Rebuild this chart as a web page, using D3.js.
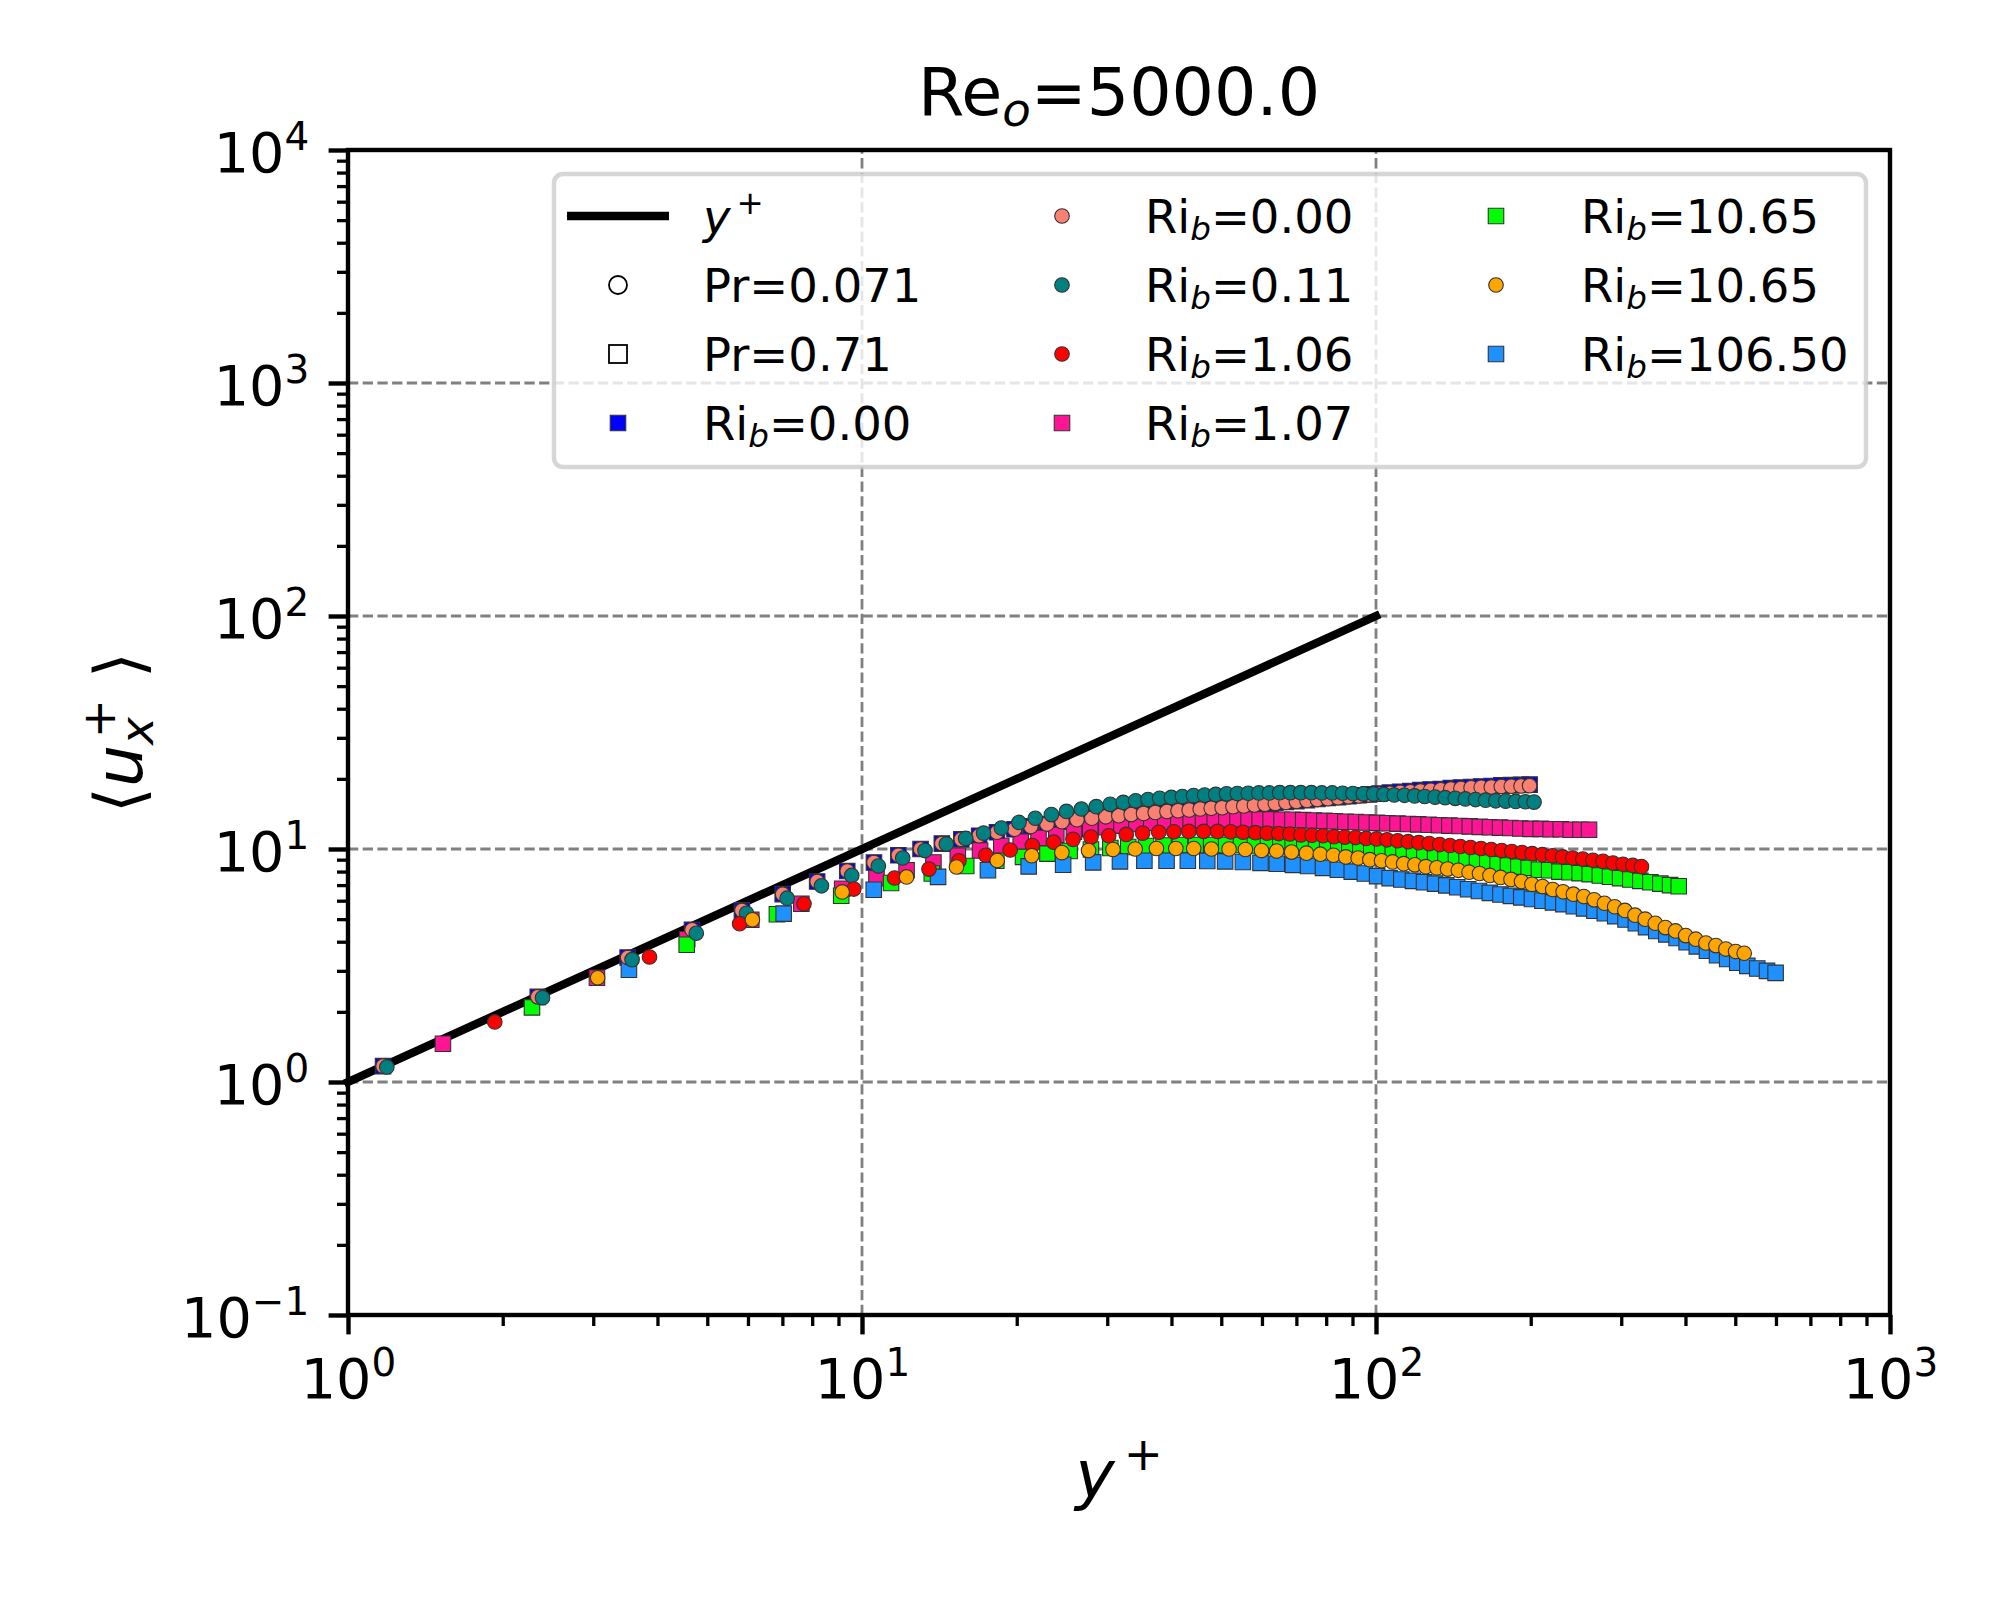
<!DOCTYPE html>
<html>
<head>
<meta charset="utf-8">
<title>Re_o=5000.0</title>
<script src="https://cdn.jsdelivr.net/npm/d3@7"></script>
<style>
body{margin:0;background:#fff;}
svg text{font-family:"DejaVu Sans",sans-serif;fill:#000;}
</style>
</head>
<body>
<script>
const width = 2000;
const height = 1600;
const marginLeft = 348;
const marginRight = 110;
const marginTop = 150;
const marginBottom = 285;

const fsTick = 55.6;
const fsBig = 66.7;
const fsLeg = 46.5;

// y+ reference line
const lineYPlus = [1, 100];

// Pr=0.071, Ri_b=0.00 (salmon); the Pr=0.71, Ri_b=0.00 squares sit on the same points
const yPlusPr071Ri000 = [1.17,2.34,3.50,4.67,5.84,7.01,8.18,9.36,10.55,11.77,13.0,14.3,15.6,16.9,18.3,19.8,21.3,22.9,24.5,26.2,28.0,29.8,31.6,33.4,35.3,37.2,39.2,41.2,43.3,45.5,47.8,50.2,52.7,55.3,58.0,60.8,63.7,66.8,70.0,73.4,76.9,80.6,84.4,88.4,92.6,97.0,101.6,106.4,111.4,116.6,122.0,127.7,133.6,139.8,146.3,153.1,160.2,167.6,175.3,183.3,191.5,199.0];
const uPlusPr071Ri000 = [1.17,2.32,3.42,4.50,5.45,6.40,7.25,8.05,8.75,9.40,10.0,10.55,11.0,11.4,11.8,12.15,12.5,12.8,13.1,13.35,13.55,13.75,13.9,14.05,14.2,14.35,14.5,14.6,14.7,14.85,14.95,15.05,15.2,15.3,15.45,15.55,15.7,15.85,16.0,16.15,16.3,16.45,16.6,16.75,16.9,17.05,17.2,17.35,17.5,17.6,17.75,17.85,17.95,18.1,18.2,18.3,18.4,18.45,18.55,18.6,18.65,18.7];
const uPlusPr071Ri000Sq = [1.17,2.32,3.42,4.50,5.45,6.40,7.25,8.05,8.75,9.40,10.0,10.55,11.0,11.4,11.8,12.15,12.5,12.8,13.1,13.35,13.55,13.75,13.9,14.05,14.2,14.35,14.5,14.6,14.7,14.85,14.95,15.05,15.2,15.3,15.45,15.6,15.75,15.9,16.05,16.2,16.4,16.55,16.7,16.85,17.0,17.15,17.3,17.45,17.6,17.75,17.9,18.0,18.1,18.25,18.35,18.45,18.55,18.65,18.75,18.8,18.85,18.9];

// Pr=0.071, Ri_b=0.11 (teal)
const yPlusPr071Ri011 = [1.19,2.39,3.57,4.76,5.96,7.15,8.34,9.55,10.76,12.0,13.26,14.59,15.91,17.24,18.67,20.2,21.73,23.36,24.99,26.72,28.56,30.4,32.23,34.07,36.01,37.94,39.98,42.02,44.17,46.41,48.76,51.2,53.75,56.41,59.16,62.02,64.97,68.14,71.4,74.87,78.44,82.21,86.09,90.17,94.45,98.94,103.6,108.5,113.6,118.9,124.4,130.3,136.3,142.6,149.2,156.2,163.4,171.0,178.8,187.0,195.3,203.0];
const uPlusPr071Ri011 = [1.16,2.30,3.35,4.35,5.30,6.15,6.95,7.70,8.45,9.15,9.85,10.5,11.1,11.7,12.3,13.0,13.55,14.05,14.5,14.85,15.2,15.55,15.85,16.1,16.3,16.5,16.65,16.8,16.95,17.05,17.15,17.25,17.3,17.35,17.4,17.4,17.45,17.45,17.45,17.45,17.4,17.4,17.35,17.3,17.25,17.2,17.15,17.05,17.0,16.9,16.8,16.7,16.6,16.5,16.4,16.3,16.2,16.1,16.05,16.0,15.95,15.9];

// Pr=0.071, Ri_b=1.06 (red)
const yPlusPr071Ri106 = [1.93,3.86,5.78,7.71,9.64,11.57,13.50,15.44,17.41,19.42,21.45,23.6,25.74,27.89,30.2,32.67,35.15,37.79,40.43,43.23,46.2,49.17,52.14,55.11,58.25,61.38,64.68,67.98,71.45,75.08,78.87,82.83,86.96,91.25,95.7,100.3,105.1,110.2,115.5,121.1,126.9,133.0,139.3,145.9,152.8,160.1,167.6,175.6,183.8,192.4,201.3,210.7,220.4,230.7,241.4,252.6,264.3,276.5,289.2,302.4,316.0,328.4];
const uPlusPr071Ri106 = [1.81,3.44,4.78,5.82,6.73,7.51,8.20,8.90,9.40,9.90,10.35,10.7,11.0,11.25,11.4,11.55,11.7,11.8,11.85,11.9,11.9,11.9,11.85,11.8,11.75,11.7,11.65,11.6,11.5,11.45,11.4,11.3,11.25,11.2,11.1,11.05,10.95,10.85,10.75,10.65,10.55,10.45,10.35,10.25,10.15,10.05,9.95,9.85,9.75,9.65,9.55,9.45,9.35,9.25,9.15,9.05,8.95,8.85,8.7,8.6,8.5,8.4];

// Pr=0.71, Ri_b=1.07 (deep pink)
const yPlusPr71Ri107 = [1.53,3.05,4.57,6.09,7.62,9.15,10.67,12.21,13.77,15.36,16.97,18.66,20.36,22.05,23.88,25.84,27.8,29.88,31.97,34.19,36.54,38.89,41.24,43.59,46.07,48.55,51.16,53.77,56.51,59.38,62.38,65.51,68.77,72.17,75.69,79.34,83.13,87.17,91.35,95.79,100.4,105.2,110.1,115.4,120.8,126.6,132.6,138.9,145.4,152.2,159.2,166.6,174.3,182.4,190.9,199.8,209.1,218.7,228.8,239.2,249.9,259.7];
const uPlusPr71Ri107 = [1.46,2.80,4.10,4.97,5.82,6.75,7.50,8.10,8.75,9.35,9.85,10.3,10.75,11.15,11.5,11.85,12.15,12.4,12.6,12.8,12.95,13.05,13.15,13.25,13.3,13.35,13.4,13.4,13.4,13.4,13.4,13.35,13.35,13.3,13.25,13.2,13.15,13.1,13.05,13.0,12.95,12.9,12.85,12.8,12.75,12.7,12.65,12.6,12.55,12.5,12.45,12.4,12.35,12.3,12.25,12.2,12.2,12.15,12.15,12.1,12.1,12.1];

// Pr=0.71, Ri_b=10.65 (lime)
const yPlusPr71Ri1065 = [2.28,4.56,6.83,9.11,11.39,13.67,15.95,18.25,20.57,22.95,25.35,27.89,30.42,32.96,35.69,38.61,41.54,44.66,47.78,51.09,54.6,58.11,61.62,65.13,68.84,72.54,76.44,80.34,84.44,88.73,93.21,97.89,102.8,107.8,113.1,118.6,124.2,130.3,136.5,143.1,150.0,157.2,164.6,172.4,180.6,189.2,198.1,207.5,217.2,227.4,237.9,249.0,260.5,272.6,285.3,298.5,312.4,326.8,341.8,357.4,373.4,388.1];
const uPlusPr71Ri1065 = [2.09,3.88,5.25,6.30,7.15,7.85,8.45,8.90,9.25,9.55,9.80,9.95,10.1,10.2,10.3,10.35,10.4,10.4,10.4,10.4,10.4,10.35,10.3,10.25,10.2,10.15,10.1,10.0,9.95,9.9,9.85,9.8,9.7,9.6,9.5,9.45,9.35,9.25,9.15,9.05,8.95,8.85,8.75,8.6,8.5,8.4,8.3,8.15,8.1,8.0,7.95,7.88,7.8,7.7,7.6,7.5,7.4,7.3,7.2,7.1,7.0,6.92];

// Pr=0.071, Ri_b=10.65 (orange)
const yPlusPr071Ri1065 = [3.06,6.12,9.15,12.21,15.27,18.33,21.39,24.48,27.59,30.78,34.0,37.39,40.79,44.19,47.85,51.78,55.7,59.88,64.07,68.51,73.22,77.93,82.63,87.34,92.31,97.28,102.5,107.7,113.2,119.0,125.0,131.3,137.8,144.6,151.7,159.0,166.6,174.7,183.1,191.9,201.1,210.8,220.7,231.2,242.1,253.7,265.7,278.2,291.3,304.9,319.0,333.9,349.4,365.6,382.6,400.4,418.9,438.3,458.4,479.3,500.8,520.4];
const uPlusPr071Ri1065 = [2.80,4.97,6.54,7.59,8.37,8.93,9.36,9.65,9.85,9.95,10.0,10.05,10.05,10.05,10.0,10.0,9.95,9.85,9.8,9.7,9.6,9.5,9.4,9.25,9.15,9.0,8.9,8.8,8.65,8.55,8.4,8.3,8.2,8.1,7.95,7.85,7.7,7.55,7.4,7.25,7.05,6.9,6.7,6.55,6.4,6.25,6.05,5.85,5.65,5.45,5.2,5.0,4.8,4.6,4.45,4.25,4.1,3.95,3.85,3.72,3.63,3.57];

// Pr=0.71, Ri_b=106.50 (dodger blue)
const yPlusPr71Ri10650 = [3.52,7.04,10.54,14.06,17.58,21.1,24.62,28.17,31.76,35.43,39.13,43.04,46.96,50.87,55.08,59.6,64.11,68.93,73.75,78.86,84.28,89.7,95.12,100.5,106.3,112.0,118.0,124.0,130.3,137.0,143.9,151.1,158.6,166.5,174.6,183.0,191.7,201.1,210.7,220.9,231.5,242.6,254.0,266.1,278.7,292.0,305.8,320.3,335.3,351.0,367.2,384.4,402.1,420.8,440.4,460.8,482.2,504.5,527.7,551.7,576.4,599.0];
const uPlusPr71Ri10650 = [3.03,5.28,6.69,7.59,8.10,8.42,8.56,8.76,8.85,8.90,8.90,8.90,8.88,8.85,8.80,8.72,8.65,8.55,8.45,8.30,8.15,8.0,7.85,7.65,7.5,7.4,7.3,7.2,7.1,6.98,6.85,6.72,6.6,6.48,6.38,6.29,6.2,6.1,6.0,5.9,5.8,5.68,5.56,5.43,5.3,5.15,4.98,4.8,4.62,4.45,4.3,4.15,3.98,3.82,3.66,3.5,3.37,3.25,3.15,3.07,3.0,2.94];

const xMajor = [1, 10, 100, 1000];
const yMajor = [0.1, 1, 10, 100, 1000, 10000];
const xGrid = [10, 100];
const yGrid = [1, 10, 100, 1000];
const minorMult = [2, 3, 4, 5, 6, 7, 8, 9];

// drawing order: squares below circles
const series = [
  {x: yPlusPr071Ri000, u: uPlusPr071Ri000Sq, shape: 'square', color: '#0000FF', ri: '0.00'},
  {x: yPlusPr071Ri000, u: uPlusPr071Ri000, shape: 'circle', color: '#FA8072', ri: '0.00'},
  {x: yPlusPr071Ri011, u: uPlusPr071Ri011, shape: 'circle', color: '#008080', ri: '0.11'},
  {x: yPlusPr071Ri106, u: uPlusPr071Ri106, shape: 'circle', color: '#FF0000', ri: '1.06'},
  {x: yPlusPr71Ri107, u: uPlusPr71Ri107, shape: 'square', color: '#FF1493', ri: '1.07'},
  {x: yPlusPr71Ri1065, u: uPlusPr71Ri1065, shape: 'square', color: '#00FF00', ri: '10.65'},
  {x: yPlusPr071Ri1065, u: uPlusPr071Ri1065, shape: 'circle', color: '#FFA500', ri: '10.65'},
  {x: yPlusPr71Ri10650, u: uPlusPr71Ri10650, shape: 'square', color: '#1E90FF', ri: '106.50'}
];
const drawOrder = [0, 4, 5, 7, 1, 2, 3, 6];

function mathText(sel, parts, size){
  let base = 0;
  parts.forEach(p => {
    const ts = sel.append('tspan').text(p.t);
    const off = p.sub ? 0.16*size : (p.sup ? -0.4*size : 0);
    if (off !== base) { ts.attr('dy', off - base); base = off; }
    if (p.sub || p.sup) ts.attr('font-size', 0.7*size);
    if (p.it) ts.attr('font-style', 'italic');
    if (p.dx) ts.attr('dx', p.dx);
  });
}

function powParts(d){
  const e = Math.round(Math.log10(d));
  return [{t: '10'}, {t: e < 0 ? '\u2212' + (-e) : String(e), sup: true}];
}

const svg = d3.select('body').append('svg')
  .attr('width', width)
  .attr('height', height)
  .style('background', '#fff');

const xScale = d3.scaleLog().domain([1, 1000]).range([marginLeft, width - marginRight]);
const yScale = d3.scaleLog().domain([0.1, 10000]).range([height - marginBottom, marginTop]);
const x0 = xScale.range()[0], x1 = xScale.range()[1];
const yB = yScale.range()[0], yT = yScale.range()[1];

// grid
const gridG = svg.append('g').attr('stroke', 'gray').attr('stroke-width', 2.8).attr('stroke-dasharray', '10.3,4.4');
gridG.selectAll('line.gx').data(xGrid).enter().append('line')
  .attr('x1', d => xScale(d)).attr('x2', d => xScale(d))
  .attr('y1', yB).attr('y2', yT);
gridG.selectAll('line.gy').data(yGrid).enter().append('line')
  .attr('y1', d => yScale(d)).attr('y2', d => yScale(d))
  .attr('x1', x0).attr('x2', x1);

// y+ line
const line = d3.line().x(d => xScale(d[0])).y(d => yScale(d[1]));
svg.append('path')
  .datum(d3.zip(lineYPlus, lineYPlus))
  .attr('d', line)
  .attr('fill', 'none')
  .attr('stroke', '#000')
  .attr('stroke-width', 8.3)
  .attr('stroke-linecap', 'square');

// markers
const symbols = {
  circle: d3.symbol().type(d3.symbolCircle).size(Math.PI*7.3*7.3),
  square: d3.symbol().type(d3.symbolSquare).size(15.5*15.5)
};
drawOrder.forEach(i => {
  const s = series[i];
  svg.append('g').selectAll('path').data(d3.zip(s.x, s.u)).enter().append('path')
    .attr('d', symbols[s.shape]())
    .attr('transform', d => `translate(${xScale(d[0])},${yScale(d[1])})`)
    .attr('fill', s.color)
    .attr('stroke', '#333')
    .attr('stroke-width', 1.1);
});

// axes
function styleAxis(g, w){
  g.select('.domain').remove();
  g.selectAll('.tick line').attr('stroke', '#000').attr('stroke-width', w);
}
const xMinor = [].concat(...[1, 10, 100].map(b => minorMult.map(m => m*b)));
const yMinor = [].concat(...[0.1, 1, 10, 100, 1000].map(b => minorMult.map(m => m*b)));

svg.append('g')
  .attr('transform', `translate(0,${yB})`)
  .call(d3.axisBottom(xScale).tickValues(xMinor).tickSize(11).tickSizeOuter(0).tickFormat(() => ''))
  .call(g => styleAxis(g, 3.3));
svg.append('g')
  .attr('transform', `translate(${x0},0)`)
  .call(d3.axisLeft(yScale).tickValues(yMinor).tickSize(11).tickSizeOuter(0).tickFormat(() => ''))
  .call(g => styleAxis(g, 3.3));

const xAxisG = svg.append('g')
  .attr('transform', `translate(0,${yB})`)
  .call(d3.axisBottom(xScale).tickValues(xMajor).tickSize(19.4).tickPadding(19.4).tickSizeOuter(0))
  .call(g => styleAxis(g, 4.4))
  .attr('font-size', fsTick);
xAxisG.selectAll('.tick text').each(function(d){
  const t = d3.select(this).text(null).attr('y', 83).attr('dy', null);
  mathText(t, powParts(d), fsTick);
});

const yAxisG = svg.append('g')
  .attr('transform', `translate(${x0},0)`)
  .call(d3.axisLeft(yScale).tickValues(yMajor).tickSize(19.4).tickPadding(19.4).tickSizeOuter(0))
  .call(g => styleAxis(g, 4.4))
  .attr('font-size', fsTick);
yAxisG.selectAll('.tick text').each(function(d){
  const t = d3.select(this).text(null).attr('y', 21.7).attr('dy', null);
  mathText(t, powParts(d), fsTick);
});

// spines
svg.append('rect')
  .attr('x', x0).attr('y', yT)
  .attr('width', x1 - x0).attr('height', yB - yT)
  .attr('fill', 'none').attr('stroke', '#000').attr('stroke-width', 4.4);

// title and labels
const title = svg.append('text')
  .attr('x', (x0 + x1)/2).attr('y', 115)
  .attr('text-anchor', 'middle').attr('font-size', fsBig);
mathText(title, [{t: 'Re'}, {t: 'o', sub: true, it: true}, {t: '=5000.0'}], fsBig);

const xLabel = svg.append('text')
  .attr('x', (x0 + x1)/2).attr('y', 1497)
  .attr('text-anchor', 'middle').attr('font-size', fsBig);
mathText(xLabel, [{t: 'y', it: true}, {t: '+', sup: true, dx: 9}], fsBig);

const yLabel = svg.append('text')
  .attr('transform', `translate(142,${(yB + yT)/2}) rotate(-90)`)
  .attr('text-anchor', 'middle').attr('font-size', fsBig);
mathText(yLabel, [
  {t: '\u27E8'}, {t: 'u', it: true},
  {t: 'x', it: true, sub: true},
  {t: '+', sup: true, dx: -21},
  {t: ' \u27E9'}
], fsBig);

// legend
const legendColX = [618, 1062, 1496];
const legendTextX = [703, 1145, 1581];
const legendRowY = [216, 285, 354, 423];

const legendItems = [
  {kind: 'line', parts: [{t: 'y', it: true}, {t: '+', sup: true, dx: 6}]},
  {kind: 'openCircle', parts: [{t: 'Pr=0.071'}]},
  {kind: 'openSquare', parts: [{t: 'Pr=0.71'}]}
].concat(series.map(s => ({kind: s.shape, color: s.color,
  parts: [{t: 'Ri'}, {t: 'b', it: true, sub: true}, {t: '=' + s.ri}]})));

const legendG = svg.append('g');
legendG.append('rect')
  .attr('x', 554).attr('y', 174).attr('width', 1312).attr('height', 293)
  .attr('rx', 9).attr('ry', 9)
  .attr('fill', 'rgba(255,255,255,0.8)')
  .attr('stroke', 'rgba(204,204,204,0.8)')
  .attr('stroke-width', 4.4);

legendItems.forEach((it, i) => {
  const col = Math.floor(i/4), row = i % 4;
  const cx = legendColX[col], cy = legendRowY[row];
  if (it.kind === 'line') {
    legendG.append('line')
      .attr('x1', cx - 51).attr('x2', cx + 51).attr('y1', cy).attr('y2', cy)
      .attr('stroke', '#000').attr('stroke-width', 8.3);
  } else if (it.kind === 'openCircle') {
    legendG.append('circle').attr('cx', cx).attr('cy', cy).attr('r', 9)
      .attr('fill', 'none').attr('stroke', '#000').attr('stroke-width', 1.8);
  } else if (it.kind === 'openSquare') {
    legendG.append('rect').attr('x', cx - 9).attr('y', cy - 9).attr('width', 18).attr('height', 18)
      .attr('fill', 'none').attr('stroke', '#000').attr('stroke-width', 1.8);
  } else {
    legendG.append('path')
      .attr('d', symbols[it.kind]())
      .attr('transform', `translate(${cx},${cy})`)
      .attr('fill', it.color).attr('stroke', '#333').attr('stroke-width', 1.1);
  }
  const t = legendG.append('text')
    .attr('x', legendTextX[col]).attr('y', cy + 16.8)
    .attr('font-size', fsLeg);
  mathText(t, it.parts, fsLeg);
});
</script>
</body>
</html>
